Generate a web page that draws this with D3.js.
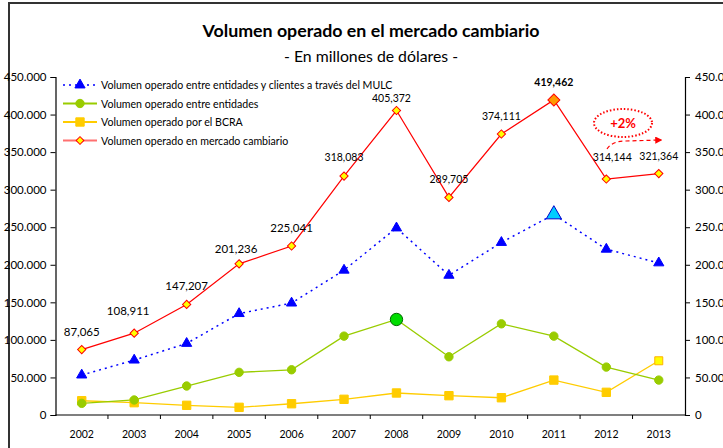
<!DOCTYPE html>
<html>
<head>
<meta charset="utf-8">
<script src="https://cdn.jsdelivr.net/npm/d3@7"></script>
<style>
  body { margin: 0; background: #fff; }
  svg { display: block; font-family: Lato, "DejaVu Sans", sans-serif; }
</style>
</head>
<body>
<div id="chart"></div>
<script>
// data (millones de dolares)
var years = ["2002","2003","2004","2005","2006","2007","2008","2009","2010","2011","2012","2013"];
var mulc = [53200, 73100, 95300, 135000, 149000, 192800, 249000, 186000, 229700, 267000, 220700, 202500];
var entidades = [15500, 20000, 38600, 56800, 60200, 105000, 127200, 77500, 121400, 105000, 63800, 46500];
var bcra = [19000, 16400, 12900, 10200, 15000, 20900, 29300, 25700, 23000, 46500, 30200, 72200];
var total = [87065, 108911, 147207, 201236, 225041, 318083, 405372, 289705, 374111, 419462, 314144, 321364];
var yTicks = [0, 50000, 100000, 150000, 200000, 250000, 300000, 350000, 400000, 450000];
var seriesNames = [
  "Volumen operado entre entidades y clientes a través del MULC",
  "Volumen operado entre entidades",
  "Volumen operado por el BCRA",
  "Volumen operado en mercado cambiario"
];

(function () {
var W = 723, H = 448;
var mLeft = 55.5, mRight = 685, mTop = 77, mBottom = 415;

var loc = d3.formatLocale({decimal: ",", thousands: ".", grouping: [3], currency: ["$", ""]});
var fmt = loc.format(",d");
var fmtLabel = function(v) { return loc.format(",.3f")(v / 1000); };

var svg = d3.select("#chart").append("svg")
  .attr("width", W).attr("height", H);

// frame
svg.append("rect")
  .attr("x", 9).attr("y", 3).attr("width", 760).attr("height", 480)
  .attr("fill", "none").attr("stroke", "#333").attr("stroke-width", 2);

// titles
svg.append("text").attr("x", 371).attr("y", 37)
  .attr("text-anchor", "middle").attr("font-weight", "bold")
  .attr("font-size", "17.8px").attr("fill", "#000")
  .text("Volumen operado en el mercado cambiario");
svg.append("text").attr("x", 371).attr("y", 62)
  .attr("text-anchor", "middle").attr("font-size", "15.8px").attr("fill", "#000")
  .text("- En millones de dólares -");

// scales
var x = d3.scaleBand().domain(years).range([mLeft, mRight]).padding(0);
var y = d3.scaleLinear().domain([0, 450000]).range([mBottom, mTop]);
var cx = function(i) { return x(years[i]) + x.bandwidth() / 2; };

// axes
var yl = svg.append("g").attr("transform", "translate(" + mLeft + ",0)")
  .call(d3.axisLeft(y).tickValues(yTicks).tickSize(5).tickPadding(4).tickFormat(fmt));
var yr = svg.append("g").attr("transform", "translate(" + mRight + ",0)")
  .call(d3.axisRight(y).tickValues(yTicks).tickSize(5).tickPadding(5).tickFormat(fmt));
var xa = svg.append("g").attr("transform", "translate(0," + mBottom + ")")
  .call(d3.axisBottom(x).tickSize(0).tickPadding(16));
xa.selectAll("line.bound")
  .data(years.slice(1))
  .enter().append("line")
  .attr("class", "bound")
  .attr("x1", function(d) { return x(d); }).attr("x2", function(d) { return x(d); })
  .attr("y1", 0).attr("y2", 4).attr("stroke", "#000");
[yl, yr, xa].forEach(function(g) {
  g.select(".domain").attr("stroke", "#000").attr("stroke-width", 1.2);
  g.selectAll("text").attr("font-family", "Lato, sans-serif").attr("font-size", "11.5px").attr("fill", "#000");
});
xa.selectAll("text").attr("font-size", "10.5px");
xa.select(".domain").attr("d", "M" + mLeft + ",0H" + mRight);

// lines
var line = function(vals) {
  return d3.line().x(function(d, i) { return cx(i); }).y(function(d) { return y(d); })(vals);
};
var colBlue = "#0000ff", colGreen = "#99cc00", colYellow = "#ffcc00", colRed = "#ff0000";

svg.append("path").attr("d", line(bcra)).attr("fill", "none").attr("stroke", colYellow).attr("stroke-width", 1.3);
svg.append("path").attr("d", line(entidades)).attr("fill", "none").attr("stroke", colGreen).attr("stroke-width", 1.3);
svg.append("path").attr("d", line(mulc)).attr("fill", "none").attr("stroke", colBlue)
  .attr("stroke-width", 1.5).attr("stroke-dasharray", "2,4");
svg.append("path").attr("d", line(total)).attr("fill", "none").attr("stroke", colRed).attr("stroke-width", 1.2);

// markers
function marks(vals, type, size, fill, stroke, rot, hi, hiSize, hiFill, hiStroke) {
  svg.append("g").selectAll("path").data(vals).enter().append("path")
    .attr("d", function(d, i) { return d3.symbol().type(type).size(i === hi ? hiSize : size)(); })
    .attr("transform", function(d, i) { return "translate(" + cx(i) + "," + y(d) + ") rotate(" + rot + ")"; })
    .attr("fill", function(d, i) { return i === hi ? hiFill : fill; })
    .attr("stroke", function(d, i) { return i === hi ? hiStroke : stroke; })
    .attr("stroke-width", 1);
}
marks(bcra, d3.symbolSquare, 70, colYellow, colYellow, 0, 11, 64, "#ffff00", "#ffb000");
marks(entidades, d3.symbolCircle, 55, colGreen, colGreen, 0, 6, 120, "#00dd00", "#006600");
marks(mulc, d3.symbolTriangle, 45, colBlue, colBlue, 0, 9, 100, "#00ccff", "#0000cc");
marks(total, d3.symbolSquare, 34, "#ffff00", colRed, 45, 9, 72, "#ff9900", colRed);

// value labels on total
var nudge = {1: [-6, -4], 3: [-3, 3], 5: [0, -1], 6: [-5, 5], 10: [6, -4]};
svg.append("g").selectAll("text").data(total).enter().append("text")
  .attr("x", function(d, i) { return cx(i) + (nudge[i] ? nudge[i][0] : 0); })
  .attr("y", function(d, i) { return y(d) - 14 + (nudge[i] ? nudge[i][1] : 0); })
  .attr("text-anchor", "middle")
  .attr("font-size", function(d, i) { return i < 5 ? "11.5px" : "10.5px"; })
  .attr("font-weight", function(d, i) { return i === 9 ? "bold" : "normal"; })
  .attr("fill", "#000")
  .text(function(d) { return fmtLabel(d); });

// legend
var leg = svg.append("g");
var legY = [85, 103.5, 122, 140.5];
var legStyle = [
  {c: colBlue, dash: "2,4", sym: d3.symbolTriangle, size: 45, fill: colBlue, rot: 0},
  {c: colGreen, dash: null, sym: d3.symbolCircle, size: 55, fill: colGreen, rot: 0},
  {c: colYellow, dash: null, sym: d3.symbolSquare, size: 70, fill: colYellow, rot: 0},
  {c: "#ff7070", dash: null, sym: d3.symbolSquare, size: 30, fill: "#ffff00", rot: 45}
];
seriesNames.forEach(function(name, i) {
  var s = legStyle[i];
  leg.append("line").attr("x1", 63).attr("x2", 97).attr("y1", legY[i]).attr("y2", legY[i])
    .attr("stroke", s.c).attr("stroke-width", i === 0 ? 1.5 : 2).attr("stroke-dasharray", s.dash);
  leg.append("path").attr("d", d3.symbol().type(s.sym).size(s.size)())
    .attr("transform", "translate(80," + legY[i] + ") rotate(" + s.rot + ")")
    .attr("fill", s.fill).attr("stroke", i === 3 ? colRed : s.fill);
  leg.append("text").attr("x", 101).attr("y", legY[i] + 4)
    .attr("font-size", "10.6px").attr("fill", "#000").text(name);
});

// +2% annotation
svg.append("ellipse").attr("cx", 623).attr("cy", 123).attr("rx", 29).attr("ry", 14)
  .attr("fill", "none").attr("stroke", colRed).attr("stroke-width", 2).attr("stroke-dasharray", "1.5,2");
svg.append("text").attr("x", 623).attr("y", 128).attr("text-anchor", "middle")
  .attr("font-size", "13px").attr("font-weight", "bold").attr("fill", colRed).text("+2%");
svg.append("defs").append("marker").attr("id", "arr")
  .attr("viewBox", "0 0 10 10").attr("refX", 8).attr("refY", 5)
  .attr("markerWidth", 6).attr("markerHeight", 6).attr("orient", "auto")
  .append("path").attr("d", "M0,0L10,5L0,10z").attr("fill", colRed);
svg.append("path").attr("d", "M607,149 Q612,141 626,141 L661,140")
  .attr("fill", "none").attr("stroke", colRed).attr("stroke-width", 1.2)
  .attr("stroke-dasharray", "4,3").attr("marker-end", "url(#arr)");
})();
</script>
</body>
</html>
